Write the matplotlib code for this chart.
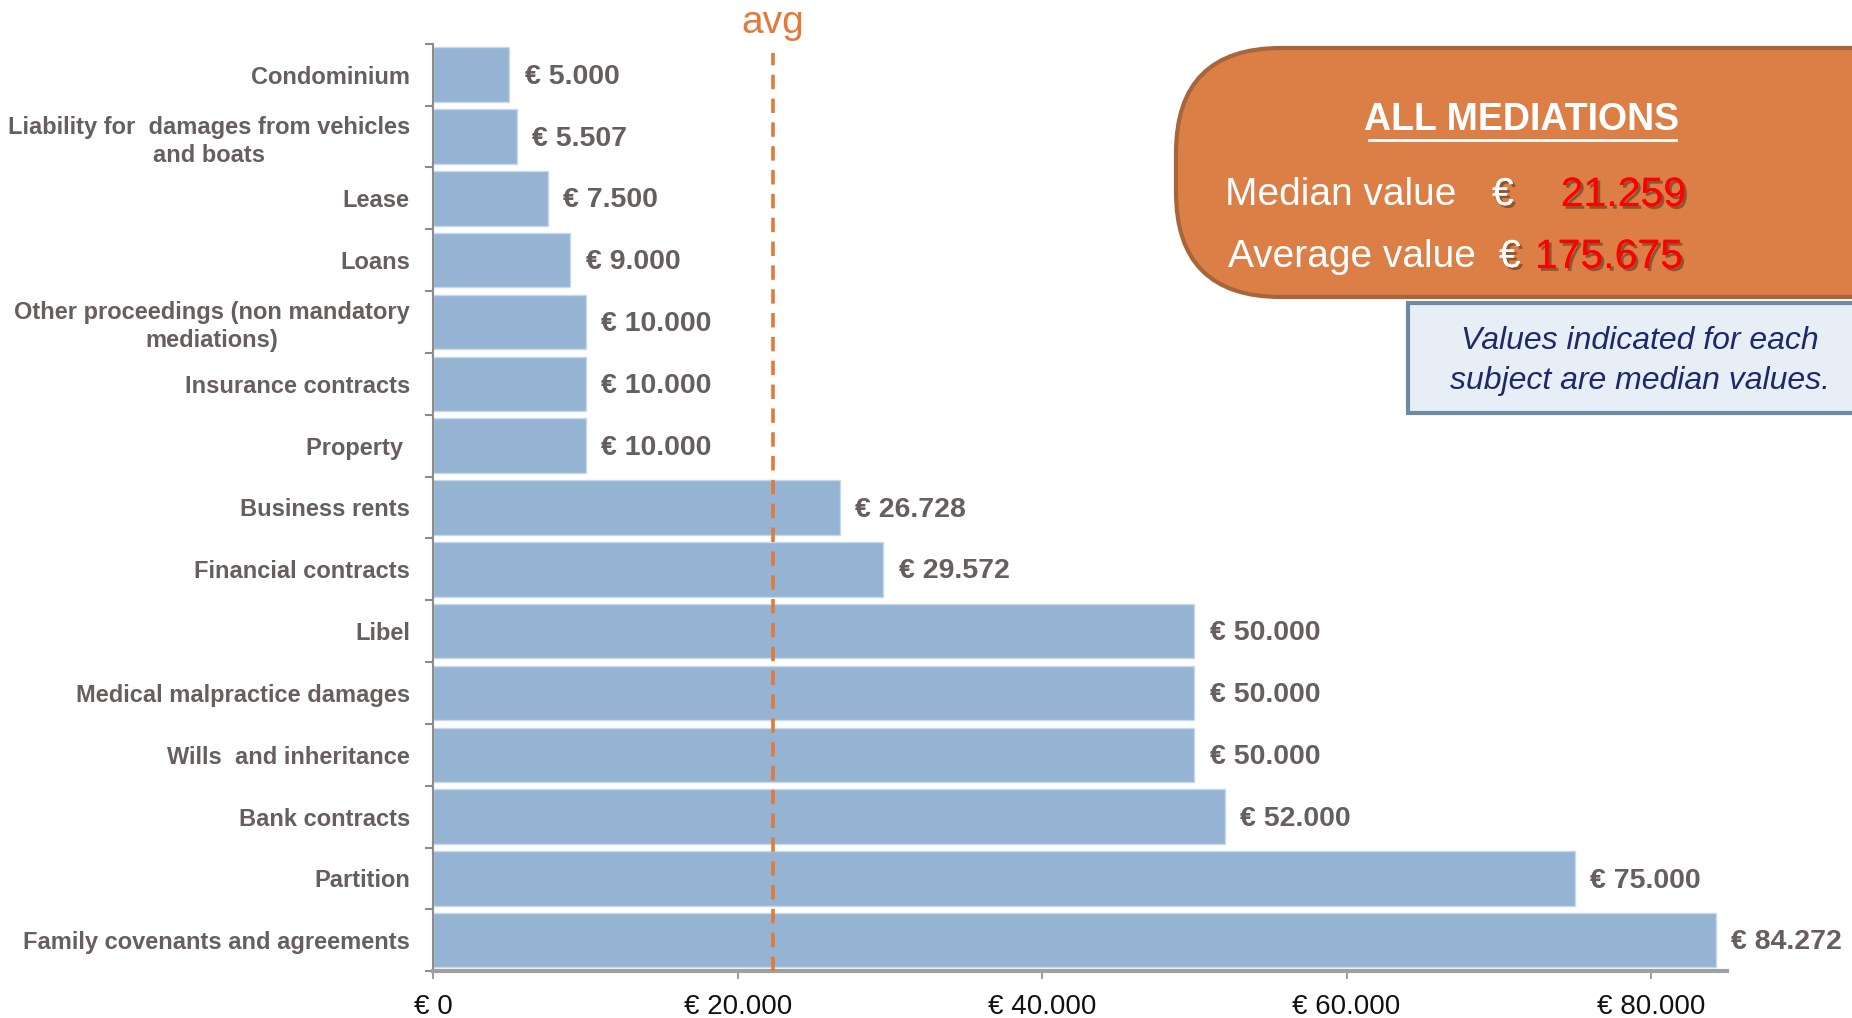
import matplotlib
matplotlib.use("Agg")
import matplotlib.pyplot as plt
from matplotlib.patches import FancyBboxPatch, Rectangle
from matplotlib import patheffects as pe
from matplotlib import font_manager as fm

# ---------------- data ----------------
categories = [
    "Condominium",
    "Liability for  damages from vehicles\nand boats",
    "Lease",
    "Loans",
    "Other proceedings (non mandatory\nmediations)",
    "Insurance contracts",
    "Property ",
    "Business rents",
    "Financial contracts",
    "Libel",
    "Medical malpractice damages",
    "Wills  and inheritance",
    "Bank contracts",
    "Partition",
    "Family covenants and agreements",
]
values = [5000, 5507, 7500, 9000, 10000, 10000, 10000, 26728, 29572,
          50000, 50000, 50000, 52000, 75000, 84272]
xticks = [0, 20000, 40000, 60000, 80000]
avg_value = 22300
median_all = "21.259"
average_all = "175.675"

# ---------------- style ----------------
avail = {f.name for f in fm.fontManager.ttflist}
FONT = "Liberation Sans" if "Liberation Sans" in avail else "DejaVu Sans"
plt.rcParams["font.family"] = [FONT, "DejaVu Sans"]

GREY = "#675E5E"
BAR = "#95B3D3"
ORANGE = "#E07B39"

def euro(v):
    return "€ " + f"{v:,}".replace(",", ".")

fig = plt.figure(figsize=(18.52, 10.18), dpi=100)
ax = fig.add_axes([0.234, 0.046, 0.6985, 0.911])

y = list(range(len(categories)))
ax.barh(y, values, height=0.88, color=BAR, edgecolor="#C9D8EA", linewidth=1, zorder=2)
ax.set_ylim(len(categories) - 0.5, -0.5)
ax.set_xlim(0, 85000)

for yi, v in zip(y, values):
    ax.annotate(euro(v), (v, yi), xytext=(11, -1.5), textcoords="offset points",
                ha="left", va="center", fontsize=20.5, fontweight="bold", color=GREY)

ax.set_yticks(y)
ax.set_yticklabels(categories, fontsize=17, fontweight="bold", color=GREY,
                   multialignment="center", linespacing=1.25)
ax.set_yticks([i - 0.5 for i in range(len(categories) + 1)], minor=True)
ax.tick_params(axis="y", which="major", length=0, pad=17)
ax.tick_params(axis="y", which="minor", length=6, width=1.5, color="#8C8C8C", direction="out")

ax.set_xticks(xticks)
ax.set_xticklabels([euro(t) for t in xticks], fontsize=20, color="#111111")
ax.tick_params(axis="x", length=6, width=1.2, color="#8C8C8C", pad=10.5)

for s in ["top", "right"]:
    ax.spines[s].set_visible(False)
ax.spines["left"].set_color("#8C8C8C")
ax.spines["left"].set_linewidth(1.5)
ax.spines["bottom"].set_color("#A0A0A0")
ax.spines["bottom"].set_linewidth(3)

ax.axvline(avg_value, ymin=0, ymax=0.99, color=ORANGE, lw=2.6,
           linestyle=(0, (4, 2.6)), zorder=3)
ax.annotate("avg", (avg_value, 1.0), xycoords=("data", "axes fraction"),
            xytext=(0, 15), textcoords="offset points", ha="center", va="center",
            fontsize=28, color=ORANGE)

# ---------------- overlay boxes ----------------
ov = fig.add_axes([0, 0, 1, 1], zorder=5)
ov.set_xlim(0, 1852)
ov.set_ylim(1018, 0)
ov.axis("off")
ov.patch.set_alpha(0)

box = FancyBboxPatch((1176, 48), 800, 249,
                     boxstyle="round,pad=0,rounding_size=105",
                     facecolor="#DB7F47", edgecolor="#A8653A", linewidth=3)
ov.add_patch(box)

ov.text(1522, 120, "ALL MEDIATIONS", ha="center", va="center", fontsize=27,
        fontweight="bold", color="white")
ov.plot([1369, 1676], [140, 140], color="white", lw=2)

shadow = [pe.withSimplePatchShadow(offset=(2, -2), shadow_rgbFace="#5a3a20", alpha=0.6), pe.Normal()]
ov.text(1225, 195, "Median value", ha="left", va="center", fontsize=28, color="white")
ov.text(1492, 195, "€", ha="left", va="center", fontsize=28, color="white", path_effects=shadow)
ov.text(1686, 195, median_all, ha="right", va="center", fontsize=29.5, color="#FF0000",
        path_effects=shadow)
ov.text(1228, 257, "Average value", ha="left", va="center", fontsize=28, color="white")
ov.text(1499, 257, "€", ha="left", va="center", fontsize=28, color="white", path_effects=shadow)
ov.text(1683, 257, average_all, ha="right", va="center", fontsize=29.5, color="#FF0000",
        path_effects=shadow)

blue = Rectangle((1408, 303), 500, 110, facecolor="#E8EEF6", edgecolor="#6E89A2", linewidth=3)
ov.add_patch(blue)
ov.text(1640, 361, "Values indicated for each\nsubject are median values.",
        ha="center", va="center", fontsize=23, style="italic", color="#1C2A6A",
        linespacing=1.45)

fig.savefig("out.png", dpi=100)
